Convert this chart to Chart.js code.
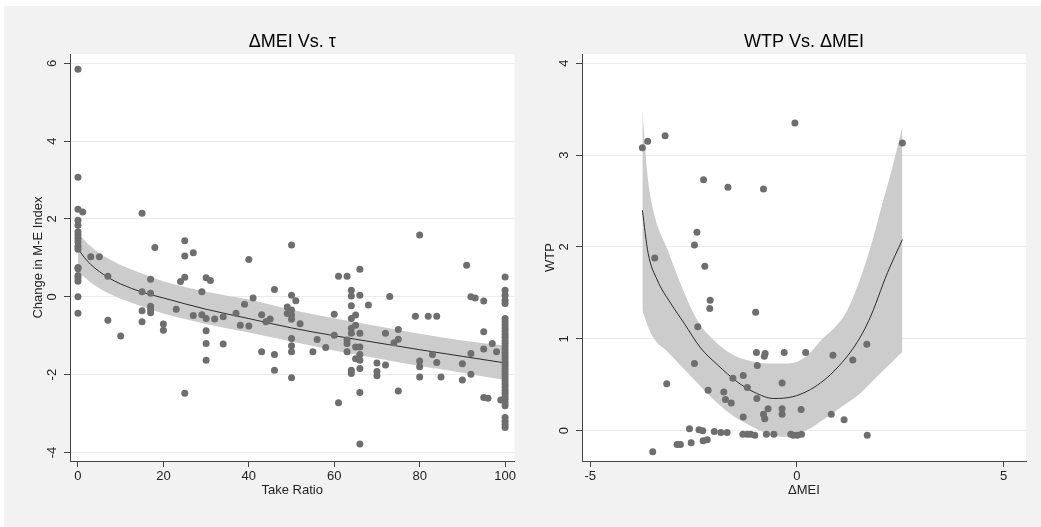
<!DOCTYPE html>
<html>
<head>
<meta charset="utf-8">
<script src="https://cdn.jsdelivr.net/npm/chart.js@4.4.1/dist/chart.umd.min.js"></script>
<style>
  body { margin: 0; background: #fff; width: 1041px; height: 527px; overflow: hidden; }
  #bg { position: absolute; left: 4px; top: 6px; width: 1037px; height: 521px; background: #f2f2f2; }
  .panel { position: absolute; top: 6px; height: 521px; }
</style>
</head>
<body>
<div id="bg"></div>
<div class="panel" style="left:4px;width:514px"><canvas id="leftChart"></canvas></div>
<div class="panel" style="left:518px;width:523px"><canvas id="rightChart"></canvas></div>
<script>
// left panel: change in M-E index vs take ratio
const takeRatio = [
  0, 0, 0, 0, 0, 0, 0, 0, 0, 0, 0, 0, 0, 0, 0, 0, 0, 0,
  1.1, 3, 5, 7, 7, 10, 15, 15, 15, 15, 17, 17, 17, 17, 17, 18, 20, 20, 23, 24,
  25, 25, 25, 25, 27, 27, 29, 29, 30, 30, 30, 30, 30, 31, 32, 34, 34, 37, 38, 39,
  40, 40, 41, 43, 43, 44, 45, 46, 46, 46, 49, 49,
  50, 50, 50, 50, 50, 50, 50, 50, 50, 51, 52, 55, 56, 58, 60, 60, 61, 61,
  63, 63, 63, 63, 64, 64, 64, 64, 64, 64, 64, 64, 65, 65, 65, 65,
  66, 66, 66, 66, 66, 66, 66, 66, 66, 68, 70, 70, 70, 72, 72, 73, 74, 75, 75, 75,
  79, 80, 80, 80, 80, 82, 83, 84, 84, 85, 90, 90, 91, 92, 92, 92, 93,
  95, 95, 95, 95, 96, 97, 98, 99,
  100, 100, 100, 100, 100, 100, 100, 100, 100, 100, 100, 100, 100, 100, 100, 100, 100, 100, 100,
  100, 100, 100, 100, 100, 100, 100, 100, 100, 100, 100, 100, 100, 100, 100, 100, 100, 100, 100
]
const changeMEI = [
  5.85, 3.07, 2.25, 1.97, 1.84, 1.67, 1.59, 1.5, 1.41, 1.3, 1.22, 0.75, 0.72, 0.55, 0.48, 0.4, 0.0, -0.42,
  2.18, 1.03, 1.03, 0.53, -0.6, -1.01, 2.15, 0.13, -0.36, -0.64, 0.45, 0.09, -0.24, -0.33, -0.41, 1.27, -0.7, -0.86, -0.32, 0.39,
  1.44, 1.05, 0.5, -2.48, 1.13, -0.48, 0.13, -0.46, 0.49, -0.56, -0.87, -1.2, -1.63, 0.42, -0.57, -0.51, -1.21, -0.42, -0.73, -0.19,
  0.96, -0.75, -0.03, -0.46, -1.41, -0.64, -0.57, 0.19, -1.48, -1.89, -0.26, -0.43,
  1.33, 0.04, -0.34, -0.47, -0.58, -1.07, -1.26, -1.41, -2.08, -0.1, -0.69, -1.41, -1.1, -1.3, -0.45, -0.99, 0.53, -2.72,
  0.53, -1.11, -1.2, -1.41, 0.17, 0.02, -0.23, -0.56, -0.81, -0.94, -1.89, -1.97, -0.47, -0.73, -1.29, -1.59,
  0.71, 0.04, -0.94, -1.29, -1.48, -1.63, -1.84, -2.46, -3.78, -0.21, -1.7, -1.92, -2.03, -0.94, -1.75, 0.01, -1.18, -0.84, -1.09, -2.42,
  -0.5, 1.59, -1.65, -1.8, -2.06, -0.5, -1.48, -0.5, -1.69, -2.06, -1.72, -2.14, 0.81, 0.0, -1.46, -1.99, -0.03,
  -0.11, -0.9, -1.34, -2.59, -2.61, -1.2, -1.41, -2.65,
  0.51, 0.17, 0.04, -0.09, -0.17, -0.56, -0.64, -0.72, -0.8, -0.88, -0.96, -1.04, -1.12, -1.2, -1.28, -1.36, -1.44, -1.52, -1.6,
  -1.68, -1.76, -1.84, -1.92, -2.0, -2.08, -2.16, -2.24, -2.32, -2.4, -2.48, -2.56, -2.64, -2.72, -2.8, -3.1, -3.2, -3.28, -3.36
]
const fitLeftX = [0, 1, 3, 5, 7, 10, 15, 20, 30, 40, 50, 60, 70, 80, 90, 100]
const fitLeftY = [1.25, 1.08, 0.83, 0.65, 0.5, 0.33, 0.12, -0.03, -0.32, -0.56, -0.8, -1.0, -1.18, -1.36, -1.53, -1.7]
const bandLeftHi = [1.7, 1.52, 1.3, 1.12, 0.99, 0.82, 0.6, 0.4, 0.13, -0.07, -0.33, -0.55, -0.75, -0.95, -1.12, -1.25]
const bandLeftLo = [0.65, 0.55, 0.37, 0.22, 0.1, -0.05, -0.25, -0.43, -0.7, -0.92, -1.15, -1.38, -1.58, -1.78, -1.95, -2.14]
const leftXTicks = [0, 20, 40, 60, 80, 100]
const leftYTicks = [-4, -2, 0, 2, 4, 6]

// right panel: WTP vs change in MEI
const deltaMEI = [
  -3.74, -3.61, -3.19, -0.05, 2.55, -2.26, -1.67, -0.81, -2.42, -2.48, -3.44, -2.23, -2.1, -2.11, -1.0, -2.4,
  -0.98, -0.77, -0.79, -0.31, 0.21, 0.87, 1.35, 1.69, -2.48, -0.96, -1.3, -1.55, -3.15, -0.36, -1.2, -2.15,
  -1.77, -1.73, -1.59, -0.97, -0.7, -0.36, 0.1, -0.36, -0.81, -0.78, -1.3, 0.83, 1.14,
  -2.6, -2.37, -2.28, -2.0, -1.84, -1.69, -1.31, -1.2, -1.12, -1.02, -0.74, -0.56, -0.15, -0.09, 0.01, 0.11, 1.7,
  -2.27, -2.17, -2.56, -2.9, -2.82, -3.49
]
const wtp = [
  3.08, 3.15, 3.21, 3.35, 3.13, 2.73, 2.65, 2.63, 2.16, 2.02, 1.88, 1.79, 1.42, 1.33, 1.29, 1.13,
  0.85, 0.84, 0.81, 0.85, 0.85, 0.82, 0.77, 0.94, 0.73, 0.71, 0.6, 0.57, 0.51, 0.52, 0.47, 0.44,
  0.42, 0.34, 0.3, 0.35, 0.24, 0.24, 0.23, 0.18, 0.18, 0.13, 0.15, 0.18, 0.12,
  0.02, 0.01, 0.0, -0.01, -0.02, -0.02, -0.04, -0.04, -0.04, -0.05, -0.04, -0.04, -0.04, -0.05, -0.05, -0.04, -0.05,
  -0.11, -0.1, -0.13, -0.15, -0.15, -0.23
]
const fitRightX = [-3.74, -3.6, -3.38, -3.06, -2.73, -2.33, -1.93, -1.44, -1.04, -0.56, -0.1, 0.25, 0.57, 0.9, 1.38, 1.74, 2.19, 2.55]
const fitRightY = [2.4, 1.93, 1.64, 1.39, 1.17, 0.9, 0.72, 0.53, 0.42, 0.35, 0.37, 0.43, 0.52, 0.65, 0.91, 1.2, 1.72, 2.08]
const bandRightX = [-3.74, -3.62, -3.46, -3.13, -2.8, -2.41, -2.0, -1.6, -1.15, -0.72, -0.3, 0, 0.3, 0.57, 0.86, 1.18, 1.46, 1.78, 2.07, 2.31, 2.55]
const bandRightHi = [3.5, 2.8, 2.37, 1.97, 1.58, 1.2, 0.98, 0.84, 0.76, 0.73, 0.73, 0.75, 0.84, 0.98, 1.1, 1.28, 1.57, 2.0, 2.48, 2.87, 3.31]
const bandRightLo = [1.31, 1.15, 1.0, 0.86, 0.7, 0.52, 0.33, 0.18, 0.06, -0.03, -0.07, -0.03, 0.02, 0.1, 0.19, 0.29, 0.38, 0.52, 0.65, 0.75, 0.86]
const rightXTicks = [-5, 0, 5]
const rightYTicks = [0, 1, 2, 3, 4]

const FONT = '"Liberation Sans", Arial, Helvetica, sans-serif'
Chart.defaults.font.family = FONT
Chart.defaults.color = '#222'

const pts = (xs, ys) => xs.map((x, i) => ({x: x, y: ys[i]}))

// white plot region, title and vertical y tick labels (Stata style)
const stataPanel = {
    id: 'stataPanel',
    beforeDraw(chart) {
        const a = chart.chartArea
        const ctx = chart.ctx
        ctx.save()
        ctx.fillStyle = '#fff'
        ctx.fillRect(a.left, a.top, a.right - a.left, a.bottom - a.top)
        ctx.restore()
    },
    afterDraw(chart, args, opts) {
        const a = chart.chartArea
        const ctx = chart.ctx
        const yScale = chart.scales.y
        ctx.save()
        ctx.fillStyle = '#000'
        ctx.font = '18px ' + FONT
        ctx.textAlign = 'center'
        ctx.textBaseline = 'middle'
        ctx.fillText(opts.title, (a.left + a.right) / 2, 36)
        ctx.fillStyle = '#222'
        ctx.font = '13px ' + FONT
        opts.yTicks.forEach(v => {
            ctx.save()
            ctx.translate(a.left - 17.5, yScale.getPixelForValue(v))
            ctx.rotate(-Math.PI / 2)
            ctx.fillText(String(v), 0, 0)
            ctx.restore()
        })
        ctx.restore()
    }
}

function makeChart(el, cfg) {
    return new Chart(el, {
        type: 'scatter',
        data: {
            datasets: [{
                data: pts(cfg.xs, cfg.ys),
                backgroundColor: '#6e6e6e',
                borderWidth: 0,
                pointRadius: 3.5,
                pointHoverRadius: 3.5,
                order: 0
            }, {
                type: 'line',
                data: pts(cfg.fitX, cfg.fitY),
                borderColor: '#2b2b2b',
                borderWidth: 1,
                pointRadius: 0,
                cubicInterpolationMode: 'monotone',
                fill: false,
                order: 1
            }, {
                type: 'line',
                data: pts(cfg.bandX, cfg.bandHi),
                borderWidth: 0,
                borderColor: 'rgba(0,0,0,0)',
                backgroundColor: '#cccccc',
                pointRadius: 0,
                cubicInterpolationMode: 'monotone',
                fill: '+1',
                order: 2
            }, {
                type: 'line',
                data: pts(cfg.bandX, cfg.bandLo),
                borderWidth: 0,
                borderColor: 'rgba(0,0,0,0)',
                pointRadius: 0,
                cubicInterpolationMode: 'monotone',
                fill: false,
                order: 3
            }]
        },
        options: {
            responsive: true,
            maintainAspectRatio: false,
            animation: false,
            layout: { padding: { left: 0, right: cfg.padRight, top: 48, bottom: 0 } },
            plugins: {
                legend: { display: false },
                tooltip: { enabled: false },
                stataPanel: { title: cfg.title, yTicks: cfg.yTicks }
            },
            scales: {
                x: {
                    type: 'linear',
                    min: cfg.xMin,
                    max: cfg.xMax,
                    afterBuildTicks: s => { s.ticks = cfg.xTicks.map(v => ({value: v})) },
                    afterFit: s => { s.height = 66 },
                    grid: { drawOnChartArea: false, drawTicks: true, tickLength: 6, tickColor: '#444' },
                    border: { color: '#444', width: 1 },
                    ticks: { font: { size: 13 }, color: '#222', padding: 2, maxRotation: 0 },
                    title: { display: true, text: cfg.xTitle, font: { size: 13 }, color: '#222', padding: { top: 0, bottom: 29 } }
                },
                y: {
                    type: 'linear',
                    min: cfg.yMin,
                    max: cfg.yMax,
                    afterBuildTicks: s => { s.ticks = cfg.yTicks.map(v => ({value: v})) },
                    afterFit: s => { s.width = cfg.yWidth },
                    grid: { color: '#ebebeb', lineWidth: 1, drawTicks: true, tickLength: 6, tickColor: '#444' },
                    border: { color: '#444', width: 1 },
                    ticks: { display: false },
                    title: { display: true, text: cfg.yTitle, font: { size: 13 }, color: '#222', padding: { top: cfg.yTitlePad, bottom: 0 } }
                }
            }
        },
        plugins: [stataPanel]
    })
}

makeChart(document.getElementById('leftChart'), {
    xs: takeRatio, ys: changeMEI,
    fitX: fitLeftX, fitY: fitLeftY,
    bandX: fitLeftX, bandHi: bandLeftHi, bandLo: bandLeftLo,
    xTicks: leftXTicks, yTicks: leftYTicks,
    xMin: -1.87, xMax: 102.2, yMin: -4.22, yMax: 6.24,
    padRight: 3, yWidth: 66, yTitlePad: 26.5,
    title: 'ΔMEI Vs. τ', xTitle: 'Take Ratio', yTitle: 'Change in M-E Index'
})

makeChart(document.getElementById('rightChart'), {
    xs: deltaMEI, ys: wtp,
    fitX: fitRightX, fitY: fitRightY,
    bandX: bandRightX, bandHi: bandRightHi, bandLo: bandRightLo,
    xTicks: rightXTicks, yTicks: rightYTicks,
    xMin: -5.2, xMax: 5.54, yMin: -0.33, yMax: 4.1,
    padRight: 15, yWidth: 64, yTitlePad: 24.2,
    title: 'WTP Vs. ΔMEI', xTitle: 'ΔMEI', yTitle: 'WTP'
})
</script>
</body>
</html>
